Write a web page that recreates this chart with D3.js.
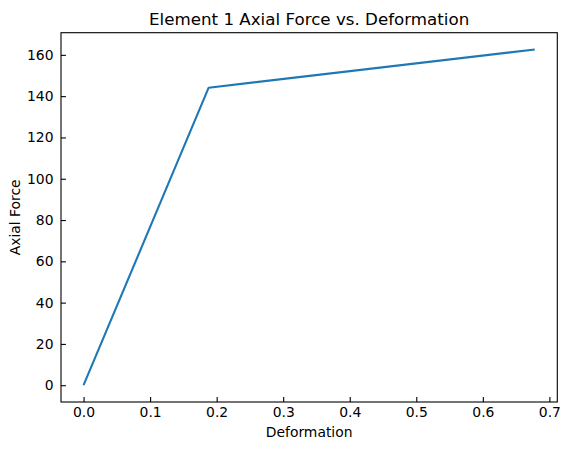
<!DOCTYPE html>
<html>
<head>
<meta charset="utf-8">
<script src="https://cdn.jsdelivr.net/npm/d3@7"></script>
<style>
  body { margin: 0; background: #fff; }
  svg { display: block; font-family: "DejaVu Sans", sans-serif; }
</style>
</head>
<body>
<svg width="568" height="450"></svg>
<script>
// data
var deformation = [0, 0.188, 0.678];
var axialForce = [0, 144.1, 162.6];
var xTicks = [0, 0.1, 0.2, 0.3, 0.4, 0.5, 0.6, 0.7];
var yTicks = [0, 20, 40, 60, 80, 100, 120, 140, 160];

var svg = d3.select("svg"),
    margin = {top: 32.7, right: 10.7, bottom: 48, left: 61},
    width = +svg.attr("width") - margin.left - margin.right,
    height = +svg.attr("height") - margin.top - margin.bottom;

var g = svg.append("g")
    .attr("transform", "translate(" + margin.left + "," + margin.top + ")");

// matplotlib style 5% margins
var xMax = d3.max(deformation), yMax = d3.max(axialForce);
var x = d3.scaleLinear().domain([-0.05 * xMax, 1.05 * xMax]).range([0, width]),
    y = d3.scaleLinear().domain([-0.05 * yMax, 1.05 * yMax]).range([height, 0]);

var data = deformation.map(function(d, i) { return {x: d, y: axialForce[i]}; });

var line = d3.line()
    .x(function(d) { return x(d.x); })
    .y(function(d) { return y(d.y); });

g.append("path")
    .datum(data)
    .attr("fill", "none")
    .attr("stroke", "#1f77b4")
    .attr("stroke-width", 2.1)
    .attr("stroke-linejoin", "round")
    .attr("stroke-linecap", "butt")
    .attr("d", line);

// axes, ticks point inward
var xAxis = d3.axisBottom(x).tickValues(xTicks).tickFormat(d3.format(".1f"))
    .tickSizeInner(-4.9).tickSizeOuter(0).tickPadding(5.5);
var yAxis = d3.axisLeft(y).tickValues(yTicks).tickFormat(d3.format("d"))
    .tickSizeInner(-4.9).tickSizeOuter(0).tickPadding(7.5);

var xGroup = g.append("g")
    .attr("transform", "translate(0," + height + ")")
    .call(xAxis);
var yGroup = g.append("g").call(yAxis);

[xGroup, yGroup].forEach(function(ax) {
  ax.select(".domain").remove();
  ax.selectAll(".tick line").attr("stroke", "#000").attr("stroke-width", 1.1);
  ax.selectAll(".tick text")
    .attr("fill", "#000")
    .style("font-size", "13.9px")
    .style("font-family", "DejaVu Sans");
});
xGroup.selectAll(".tick text").attr("dy", "0.71em");

// frame
g.append("rect")
    .attr("width", width)
    .attr("height", height)
    .attr("fill", "none")
    .attr("stroke", "#000")
    .attr("stroke-width", 1.1);

// labels
svg.append("text")
    .attr("x", margin.left + width / 2)
    .attr("y", 24.5)
    .attr("text-anchor", "middle")
    .style("font-size", "16.7px")
    .text("Element 1 Axial Force vs. Deformation");

svg.append("text")
    .attr("x", margin.left + width / 2)
    .attr("y", 437)
    .attr("text-anchor", "middle")
    .style("font-size", "13.9px")
    .text("Deformation");

svg.append("text")
    .attr("transform", "translate(20," + (margin.top + height / 2) + ") rotate(-90)")
    .attr("text-anchor", "middle")
    .style("font-size", "13.9px")
    .text("Axial Force");
</script>
</body>
</html>
